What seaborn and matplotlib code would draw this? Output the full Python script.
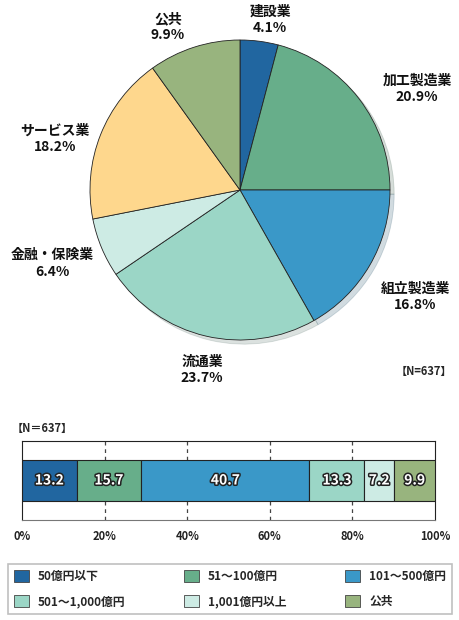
import numpy as np
import pandas as pd
import matplotlib
matplotlib.use('Agg')
import matplotlib.pyplot as plt
import matplotlib.patheffects as pe
from matplotlib.patches import Patch
import seaborn as sns

# --- dados ---
setores = ['建設業', '加工製造業', '組立製造業', '流通業', '金融・保険業', 'サービス業', '公共']
setores_pct = [4.1, 20.9, 16.8, 23.7, 6.4, 18.2, 9.9]
cores_pie = ['#2166a0', '#67ae8a', '#3a98c8', '#9bd6c6', '#cdebe4', '#fed78d', '#98b47e']

faixas = ['50億円以下', '51～100億円', '101～500億円', '501～1,000億円', '1,001億円以上', '公共']
faixas_pct = [13.2, 15.7, 40.7, 13.3, 7.2, 9.9]
cores_bar = ['#2166a0', '#67ae8a', '#3a98c8', '#9bd6c6', '#cdebe4', '#98b47e']

ticks_x = [0, 20, 40, 60, 80, 100]

sns.set_theme(style='white')
plt.rcParams['font.family'] = ['Noto Sans CJK JP', 'DejaVu Sans']
plt.rcParams['font.weight'] = 'bold'

fig = plt.figure(figsize=(4.6, 6.2), dpi=100)
W, H = 460, 620

# --- pizza ---
raio_px = 150
lim = 1.4
cx, cy = 240, 190
lado = 2 * lim * raio_px
ax1 = fig.add_axes([(cx - lado / 2) / W, (H - cy - lado / 2) / H, lado / W, lado / H])
wedges, _ = ax1.pie(setores_pct, colors=cores_pie, startangle=90, counterclock=False,
                    wedgeprops=dict(edgecolor='#222222', linewidth=0.6),
                    shadow=dict(ox=0.02, oy=-0.02, shade=0.5, alpha=0.2))
ax1.set_xlim(-lim, lim)
ax1.set_ylim(-lim, lim)
ax1.set_aspect('equal')
ax1.axis('off')

# posicao dos rotulos (em unidades do raio)
pos_rotulo = [(0.20, 1.137), (1.18, 0.677), (1.167, -0.713), (-0.253, -1.2),
              (-1.253, -0.49), (-1.233, 0.343), (-0.48, 1.087)]
for nome, v, (px, py) in zip(setores, setores_pct, pos_rotulo):
    ax1.text(px, py, f'{nome}\n{v}%', ha='center', va='center',
             fontsize=10, fontweight='bold', linespacing=1.2, color='#111111')

fig.text(452 / W, 1 - 371 / H, '【N=637】', ha='right', va='center', fontsize=8, fontweight='bold')

# --- barra empilhada ---
ax2 = fig.add_axes([22 / W, 1 - 520 / H, 413 / W, 79 / H])
esquerda = np.concatenate([[0], np.cumsum(faixas_pct)[:-1]])
ax2.barh([0] * len(faixas_pct), faixas_pct, left=esquerda, height=1.0,
         color=cores_bar, edgecolor='#222222', linewidth=0.8, zorder=3)
for l, v in zip(esquerda, faixas_pct):
    ax2.text(l + v / 2, 0, f'{v}', ha='center', va='center', fontsize=10, fontweight='bold',
             color='white', zorder=4,
             path_effects=[pe.withStroke(linewidth=2.2, foreground='#222222')])
for t in ticks_x[1:-1]:
    ax2.axvline(t, color='#444444', linestyle=(0, (3, 3)), linewidth=0.9, zorder=1)
ax2.set_xlim(0, 100)
ax2.set_ylim(-0.98, 0.98)
ax2.set_yticks([])
ax2.set_xticks(ticks_x)
ax2.set_xticklabels([f'{t}%' for t in ticks_x], fontsize=8, fontweight='bold', color='#222222')
ax2.tick_params(axis='x', length=0, pad=7)
for s in ax2.spines.values():
    s.set_color('#222222')
    s.set_linewidth(0.8)
ax2.spines['bottom'].set_color('#777777')

fig.text(12 / W, 1 - 428 / H, '【N＝637】', ha='left', va='center', fontsize=8, fontweight='bold')

# --- legenda (ordem por linha) ---
ordem = [0, 3, 1, 4, 2, 5]
handles = [Patch(facecolor=cores_bar[i], edgecolor='#444444', linewidth=0.6) for i in ordem]
rotulos = [faixas[i] for i in ordem]
leg = fig.legend(handles, rotulos, ncol=3, loc='lower left', mode='expand',
                 bbox_to_anchor=(8 / W, 6 / H, 444 / W, 58 / H),
                 prop=dict(size=8.5, weight='bold'), frameon=True, fancybox=False,
                 handlelength=1.25, handleheight=1.25, handletextpad=0.8,
                 labelspacing=1.0, borderpad=0.5, borderaxespad=0)
leg.get_frame().set_edgecolor('#b0b0b0')
leg.get_frame().set_linewidth(1.2)

fig.savefig('out.png', dpi=100)
